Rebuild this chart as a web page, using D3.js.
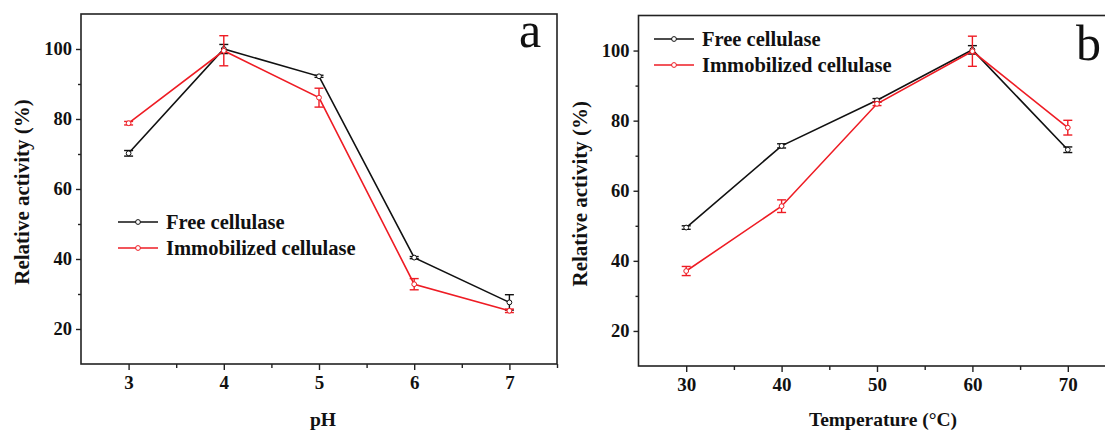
<!DOCTYPE html>
<html>
<head>
<meta charset="utf-8">
<script src="https://cdn.jsdelivr.net/npm/d3@7"></script>
<style>
  html, body { margin: 0; padding: 0; background: #fff; }
  svg { display: block; }
  text { font-family: "Liberation Serif", "Times New Roman", serif; fill: #111; }
</style>
</head>
<body>
<svg id="chart" width="1105" height="430"></svg>
<script>
// ---- data ----
const seriesNames = ["Free cellulase", "Immobilized cellulase"];
const phValues = [3, 4, 5, 6, 7];
const phFree = [70.2, 100.0, 92.2, 40.4, 27.6];
const phFreeErr = [0.8, 1.3, 0.3, 0.3, 2.2];
const phImm = [78.8, 99.5, 86.1, 32.8, 25.2];
const phImmErr = [0.5, 4.3, 2.7, 1.6, 0.5];

const tempValues = [30, 40, 50, 60, 70];
const tempFree = [49.5, 72.8, 85.8, 100.2, 71.7];
const tempFreeErr = [0.5, 0.6, 0.5, 1.2, 0.8];
const tempImm = [37.1, 55.6, 84.8, 99.8, 78.0];
const tempImmErr = [1.3, 1.8, 0.5, 4.3, 2.1];

const yTicks = [20, 40, 60, 80, 100];
const yMinorTicks = [30, 50, 70, 90];
const phTicks = [3, 4, 5, 6, 7];
const phMinorTicks = [3.5, 4.5, 5.5, 6.5, 7.5];
const tempTicks = [30, 40, 50, 60, 70];
const tempMinorTicks = [35, 45, 55, 65];

const colors = ["#111111", "#ee1c24"];

const svg = d3.select("#chart");

function drawPanel(cfg) {
  const g = svg.append("g");
  const x = d3.scaleLinear().domain(cfg.xDomain).range([cfg.left, cfg.right]);
  const y = d3.scaleLinear().domain([10, 110]).range([cfg.bottom, cfg.top]);

  // frame
  g.append("rect")
    .attr("x", cfg.left).attr("y", cfg.top)
    .attr("width", cfg.right - cfg.left).attr("height", cfg.bottom - cfg.top)
    .attr("fill", "none").attr("stroke", "#222").attr("stroke-width", 1.6);

  // y axis
  const yAxis = d3.axisLeft(y).tickValues(yTicks).tickSize(5).tickPadding(4).tickFormat(d3.format("d"));
  const ya = g.append("g").attr("transform", `translate(${cfg.left},0)`).call(yAxis);
  const yMin = d3.axisLeft(y).tickValues(yMinorTicks).tickSize(3).tickFormat("");
  const ym = g.append("g").attr("transform", `translate(${cfg.left},0)`).call(yMin);

  // x axis
  const xAxis = d3.axisBottom(x).tickValues(cfg.xTicks).tickSize(6).tickPadding(6).tickFormat(d3.format("d"));
  const xa = g.append("g").attr("transform", `translate(0,${cfg.bottom})`).call(xAxis);
  const xMin = d3.axisBottom(x).tickValues(cfg.xMinor).tickSize(4).tickFormat("");
  const xm = g.append("g").attr("transform", `translate(0,${cfg.bottom})`).call(xMin);

  [ya, ym, xa, xm].forEach(a => {
    a.select(".domain").remove();
    a.selectAll(".tick line").attr("stroke", "#222").attr("stroke-width", 1.4);
  });
  ya.selectAll(".tick text").attr("font-size", 18.5).attr("font-weight", "bold")
    .attr("font-family", "Liberation Serif").attr("fill", "#111");
  xa.selectAll(".tick text").attr("font-size", 19).attr("font-weight", "bold")
    .attr("font-family", "Liberation Serif").attr("fill", "#111");

  // axis titles
  g.append("text")
    .attr("transform", `translate(${cfg.left - 52},${(cfg.top + cfg.bottom) / 2 + 3}) rotate(-90)`)
    .attr("text-anchor", "middle").attr("font-size", 21).attr("font-weight", "bold")
    .text("Relative activity (%)");
  g.append("text")
    .attr("x", cfg.titleX).attr("y", 426)
    .attr("text-anchor", "middle").attr("font-size", 19.5).attr("font-weight", "bold")
    .text(cfg.xTitle);

  // series
  const line = d3.line().x(d => x(d[0])).y(d => y(d[1]));
  cfg.series.forEach((s, i) => {
    const pts = cfg.xValues.map((xv, k) => [xv, s.values[k], s.errs[k]]);
    const sg = g.append("g");
    sg.append("path").datum(pts).attr("d", line)
      .attr("fill", "none").attr("stroke", colors[i]).attr("stroke-width", 1.6);
    // error bars
    const eb = sg.selectAll(".eb").data(pts).enter().append("g");
    eb.append("line")
      .attr("x1", d => x(d[0])).attr("x2", d => x(d[0]))
      .attr("y1", d => y(d[1] + d[2])).attr("y2", d => y(d[1] - d[2]))
      .attr("stroke", colors[i]).attr("stroke-width", 1.4);
    [1, -1].forEach(sgn => {
      eb.append("line")
        .attr("x1", d => x(d[0]) - 4.5).attr("x2", d => x(d[0]) + 4.5)
        .attr("y1", d => y(d[1] + sgn * d[2])).attr("y2", d => y(d[1] + sgn * d[2]))
        .attr("stroke", colors[i]).attr("stroke-width", 1.4);
    });
    sg.selectAll("circle").data(pts).enter().append("circle")
      .attr("cx", d => x(d[0])).attr("cy", d => y(d[1])).attr("r", 2.4)
      .attr("fill", "#fff").attr("stroke", colors[i]).attr("stroke-width", 1);
  });

  // legend
  seriesNames.forEach((name, i) => {
    const ly = cfg.legY + i * 26;
    g.append("line").attr("x1", cfg.legX).attr("x2", cfg.legX + 40)
      .attr("y1", ly).attr("y2", ly).attr("stroke", colors[i]).attr("stroke-width", 1.6);
    g.append("circle").attr("cx", cfg.legX + 20).attr("cy", ly).attr("r", 2.4)
      .attr("fill", "#fff").attr("stroke", colors[i]).attr("stroke-width", 1);
    g.append("text").attr("x", cfg.legX + 48).attr("y", ly + 7)
      .attr("font-size", 20.5).attr("font-weight", "bold").text(name);
  });

  // panel letter
  g.append("text").attr("x", cfg.letterX).attr("y", cfg.letterY)
    .attr("font-size", 50).attr("font-family", "Liberation Serif").text(cfg.letter);
}

drawPanel({
  left: 81, right: 557, top: 14, bottom: 364,
  xDomain: [2.5, 7.5], xTicks: phTicks, xMinor: phMinorTicks,
  xValues: phValues,
  series: [{ values: phFree, errs: phFreeErr }, { values: phImm, errs: phImmErr }],
  xTitle: "pH", titleX: 323,
  legX: 118, legY: 222,
  letter: "a", letterX: 519, letterY: 47
});

drawPanel({
  left: 638.5, right: 1115.5, top: 15.5, bottom: 366,
  xDomain: [25, 75], xTicks: tempTicks, xMinor: tempMinorTicks,
  xValues: tempValues,
  series: [{ values: tempFree, errs: tempFreeErr }, { values: tempImm, errs: tempImmErr }],
  xTitle: "Temperature (°C)", titleX: 883,
  legX: 654, legY: 39,
  letter: "b", letterX: 1076, letterY: 60
});
</script>
</body>
</html>
